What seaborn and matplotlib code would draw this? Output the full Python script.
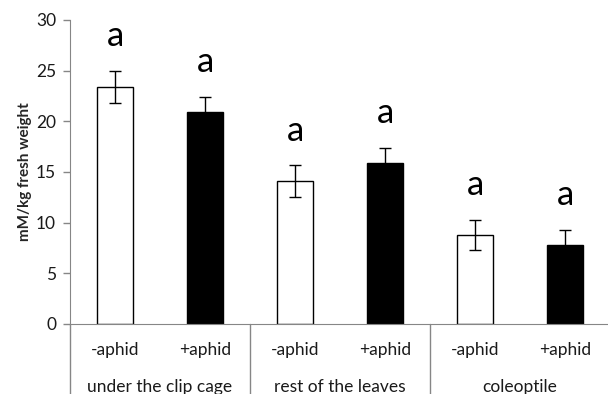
import matplotlib.pyplot as plt
import matplotlib.transforms as mtransforms
import pandas as pd
import seaborn as sns

# Data
groups = ["under the clip cage", "rest of the leaves", "coleoptile"]
treatments = ["-aphid", "+aphid", "-aphid", "+aphid", "-aphid", "+aphid"]
means = [23.4, 20.9, 14.1, 15.9, 8.8, 7.8]
errors = [1.55, 1.5, 1.55, 1.5, 1.5, 1.5]
letters = ["a", "a", "a", "a", "a", "a"]

df = pd.DataFrame({"bar": range(len(means)), "mean": means, "treatment": treatments})

sns.set_style("white")
plt.rcParams["font.family"] = ["Lato", "DejaVu Sans"]

fig = plt.figure(figsize=(6.08, 3.94), dpi=100)
ax = fig.add_axes([70 / 608, 70 / 394, 540 / 608, 304 / 394])

sns.barplot(
    data=df, x="bar", y="mean", hue="treatment",
    palette={"-aphid": "white", "+aphid": "black"},
    edgecolor="black", linewidth=1, width=0.41, dodge=False,
    legend=False, ax=ax
)
ax.errorbar(range(len(means)), means, yerr=errors, fmt="none",
            ecolor="black", elinewidth=1, capsize=4, capthick=1, zorder=5)

for i, (m, e, l) in enumerate(zip(means, errors, letters)):
    ax.text(i, m + e + 2.45, l, ha="center", va="baseline", fontsize=25, color="black")

ax.set_xlim(-0.5, 5.5)
ax.set_ylim(0, 30)
ax.set_yticks(range(0, 31, 5))
ax.set_xticks([])
ax.set_xlabel("")
ax.set_ylabel("mM/kg fresh weight", fontsize=11, fontweight="bold", labelpad=3)

grey = "#868686"
txt = "#1a1a1a"
for s in ["top", "right"]:
    ax.spines[s].set_visible(False)
ax.spines["left"].set_color(grey)
ax.spines["bottom"].set_color(grey)
ax.tick_params(axis="y", direction="out", length=5, color=grey, width=1,
               labelsize=12.5, labelcolor=txt, pad=5, left=True)

# multi-level category axis
trans = mtransforms.blended_transform_factory(ax.transData, ax.transAxes)
for i, t in enumerate(treatments):
    ax.text(i, -0.085, t, transform=trans, ha="center", va="center",
            fontsize=12.5, color=txt)
n_per = len(treatments) // len(groups)
for g, name in enumerate(groups):
    ax.text(g * n_per + (n_per - 1) / 2, -0.207, name, transform=trans,
            ha="center", va="center", fontsize=12.5, color=txt)
for g in range(len(groups) + 1):
    xb = g * n_per - 0.5
    ax.plot([xb, xb], [0, -0.3], transform=trans, color=grey, lw=1, clip_on=False)

fig.savefig("out.png", dpi=100)
